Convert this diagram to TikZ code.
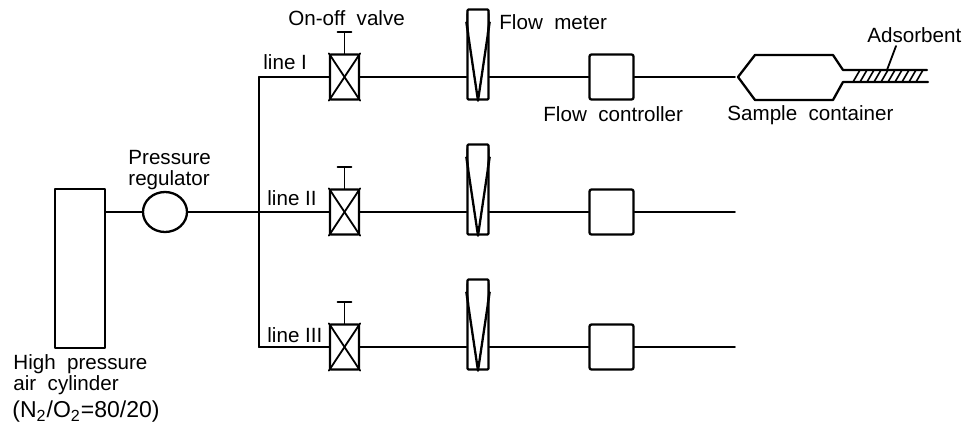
\documentclass[tikz,border=0pt]{standalone}
\usepackage{fontspec}
\setmainfont{Liberation Sans}
\usetikzlibrary{positioning,shapes.geometric}
\tikzset{
	pipe/.style={line width=.9pt},
	heavy/.style={line width=1.15pt},
	lab/.style={inner sep=0pt, font=\fontsize{10.3}{10.5}\selectfont, align=left},
	cylbox/.style={draw, heavy, minimum width=25pt, minimum height=79.5pt, inner sep=0pt},
	regul/.style={draw, heavy, ellipse, minimum width=22pt, minimum height=20pt, inner sep=0pt},
	valvebox/.style={draw, heavy, rounded corners=.5pt, minimum width=14.5pt, minimum height=22.5pt, inner sep=0pt},
	meterbox/.style={draw, heavy, rounded corners=.5pt, minimum width=10.5pt, minimum height=45pt, inner sep=0pt},
	ctrlbox/.style={draw, heavy, rounded corners=1pt, minimum width=22pt, minimum height=22.5pt, inner sep=0pt}
}
\begin{document}
\begin{tikzpicture}[x=.5pt,y=-.5pt, line join=round, line cap=round]
	\useasboundingbox (0,0) rectangle (965,429);
	%cylinder and regulator
	\node[cylbox] (cyl) at (80,268.5) {};
	\node[regul] (reg) at (165,212) {};
	\coordinate (cylout) at (105,212);
	\coordinate (tee) at (259,212);
	\draw[pipe] (cylout)--(reg);
	\draw[pipe] (reg)--(tee);
	\coordinate (top) at (259,77);
	\coordinate (bot) at (259,347);
	\draw[heavy] (top)--(bot);
	%three lines
	\foreach \name/\yy in {a/77,b/212,c/347}{
		\coordinate (start\name) at (259,\yy);
		\coordinate (end\name) at (735,\yy);
		\node[valvebox] (valve\name) at (344.5,\yy) {};
		\node[meterbox] (meter\name) at (478,\yy-22.5) {};
		\node[ctrlbox] (ctrl\name) at (611.5,\yy) {};
		\coordinate (stem\name) at (344.5,\yy-45);
		\draw[pipe] (start\name)--(valve\name);
		\draw[pipe] (valve\name)--(meter\name.west|-valve\name);
		\draw[pipe] (meter\name.east|-valve\name)--(ctrl\name);
		\draw[pipe] (ctrl\name)--(end\name);
		\draw[pipe] (valve\name.north)--(stem\name);
		\draw[pipe] ([xshift=-3.5pt]stem\name)--([xshift=3.5pt]stem\name);
		\draw[pipe] (valve\name.north west)--(valve\name.south east);
		\draw[pipe] (valve\name.north east)--(valve\name.south west);
		\draw[heavy] ([yshift=-7pt]meter\name.north west)--(meter\name.south)--([yshift=-7pt]meter\name.north east);
		\fill ([yshift=-1pt]meter\name.north west)--([yshift=-7pt]meter\name.north west)--([xshift=1.5pt,yshift=-13pt]meter\name.north west)--cycle;
		\fill ([yshift=-1pt]meter\name.north east)--([yshift=-7pt]meter\name.north east)--([xshift=-1.5pt,yshift=-13pt]meter\name.north east)--cycle;
	}
	%sample container
	\coordinate (tip) at (738,77);
	\draw[heavy] (tip)--(755,55)--(833,55)--(843,70)--(927,70);
	\draw[heavy] (tip)--(755,100)--(833,100)--(843,82)--(928,82);
	\foreach \xx in {853,860,...,918}
		\draw[line width=.8pt] (\xx,82)--(\xx+7,70);
	%labels
	\node[lab, anchor=west] (lI) at (263,62) {line I};
	\node[lab, anchor=west] (lII) at (267,198) {line II};
	\node[lab, anchor=west] (lIII) at (267,335) {line III};
	\node[lab, anchor=west] (onoff) at (288,18) {On-off\ \ valve};
	\node[lab, anchor=west] (fm) at (499,22) {Flow\ \ meter};
	\node[lab, anchor=west] (fc) at (543,114) {Flow\ \ controller};
	\node[lab, anchor=west] (sc) at (727,115) {Sample\ \ container};
	\node[lab, anchor=west] (ads) at (867,35) {Adsorbent};
	\node[lab, anchor=west] (pr) at (128,170) {Pressure\\regulator};
	\node[lab, anchor=west] (hp) at (13,375) {High\ \ pressure\\air\ \ cylinder};
	\node[lab, anchor=west, font=\fontsize{11.5}{12}\selectfont] (ratio) at (12,412) {(N\textsubscript{2}/O\textsubscript{2}={}80/20)};
	\coordinate (adsout) at (896,46);
	\coordinate (adsin) at (887,70);
	\draw[pipe] (adsout)--(adsin);
\end{tikzpicture}
\end{document}
